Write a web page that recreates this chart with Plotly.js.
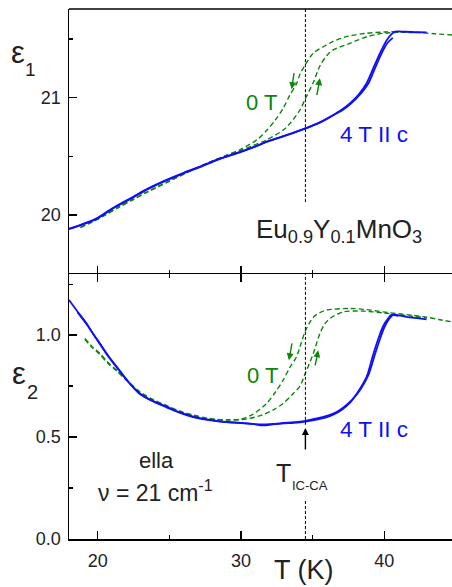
<!DOCTYPE html>
<html><head><meta charset="utf-8">
<script src="https://cdn.plot.ly/plotly-3.0.1.min.js"></script>
<style>html,body{margin:0;padding:0;width:452px;height:587px;overflow:hidden;background:#fff}#chart{width:470px;height:587px}</style>
</head><body><div id="chart"></div>
<script>
// ---- top panel: eps1 ----
const e1Blue4T_A_T = [18.0,19.0,19.93,21.0,22.49,23.5,24.81,26.0,27.14,28.5,29.98,31.0,31.79,33.0,34.49,35.5,36.44,37.0,37.6,38.2,38.77,39.23,39.7,40.17,40.5,40.75,41.5,42.3,42.96];
const e1Blue4T_A_V = [19.883,19.925,19.972,20.055,20.156,20.225,20.30,20.36,20.412,20.48,20.54,20.585,20.625,20.675,20.739,20.79,20.853,20.895,20.952,21.025,21.123,21.25,21.378,21.49,21.54,21.563,21.562,21.558,21.557];
const e1Blue4T_B_T = [18.0,19.0,19.93,21.0,22.49,23.5,24.81,26.0,27.14,28.5,29.98,31.0,31.79,33.0,34.49,35.5,36.44,37.1,37.7,38.3,38.9,39.35,39.82,40.25,40.6];
const e1Blue4T_B_V = [19.880,19.92,19.966,20.05,20.15,20.22,20.295,20.355,20.408,20.476,20.536,20.582,20.622,20.672,20.736,20.787,20.85,20.895,20.952,21.025,21.123,21.25,21.378,21.47,21.51];
const e1Green0T_cool_T = [18.8,19.5,20.5,21.5,22.5,23.5,25.0,26.5,28.0,29.0,29.98,31.1,31.79,32.4,32.95,33.4,33.88,34.12,34.49,35.05,35.98,36.44,37.5,38.77,40.0,41.1,42.5,43.5,44.73];
const e1Green0T_cool_V = [19.895,19.935,20.0,20.07,20.135,20.2,20.29,20.38,20.46,20.51,20.56,20.64,20.72,20.81,20.91,21.02,21.12,21.2,21.28,21.38,21.45,21.48,21.525,21.549,21.56,21.563,21.555,21.545,21.535];
const e1Green0T_heat_T = [18.8,19.5,20.5,21.5,22.5,23.5,25.0,26.5,28.0,29.0,29.98,30.8,31.79,32.95,33.42,34.12,34.49,35.05,35.51,36.0,36.44,37.6,38.8,39.93,41.1,42.0];
const e1Green0T_heat_V = [19.893,19.932,19.997,20.067,20.132,20.197,20.287,20.377,20.457,20.507,20.55,20.59,20.64,20.724,20.78,20.895,20.99,21.13,21.27,21.36,21.407,21.463,21.52,21.549,21.557,21.555];

// ---- bottom panel: eps2 ----
const e2Blue4T_A_T = [18.0,18.6,19.23,19.7,20.16,20.7,21.33,22.1,22.95,23.9,24.81,25.7,26.67,27.5,28.3,29.1,29.98,30.8,31.56,32.2,32.95,33.7,34.49,35.2,35.95,36.44,37.0,37.6,38.2,38.77,39.23,39.6,39.93,40.25,40.5,41.0,41.55,42.3,42.96];
const e2Blue4T_A_V = [1.172,1.115,1.057,1.005,0.959,0.90,0.845,0.775,0.714,0.675,0.649,0.622,0.60,0.588,0.58,0.574,0.570,0.565,0.557,0.562,0.567,0.570,0.576,0.585,0.597,0.61,0.632,0.668,0.725,0.795,0.905,0.985,1.045,1.08,1.10,1.097,1.09,1.083,1.077];
const e2Blue4T_B_T = [18.6,19.23,20.16,21.33,22.95,24.81,26.67,28.3,29.98,31.56,32.95,34.49,35.3,36.1,36.6,37.15,37.75,38.35,38.9,39.35,39.72,40.05,40.35,40.6,41.0];
const e2Blue4T_B_V = [1.112,1.054,0.956,0.842,0.711,0.646,0.598,0.578,0.568,0.562,0.569,0.58,0.592,0.607,0.62,0.645,0.682,0.735,0.805,0.905,0.985,1.045,1.08,1.098,1.095];
const e2Green0T_cool_T = [19.11,19.6,20.16,20.7,21.33,22.1,22.95,23.9,24.81,25.7,26.67,27.5,28.3,29.1,29.98,30.8,31.79,32.4,32.95,33.4,33.88,34.2,34.49,35.05,35.5,35.98,37.6,38.8,39.93,41.0,42.0,42.96,43.8,44.73];
const e2Green0T_cool_V = [0.984,0.945,0.91,0.868,0.828,0.775,0.722,0.683,0.655,0.628,0.608,0.595,0.587,0.585,0.588,0.61,0.665,0.72,0.78,0.84,0.894,0.96,1.02,1.088,1.11,1.123,1.131,1.125,1.114,1.105,1.097,1.088,1.077,1.065];
const e2Green0T_heat_T = [19.11,19.6,20.16,20.7,21.33,22.1,22.95,23.9,24.81,25.7,26.67,27.5,28.3,29.1,29.98,30.63,31.56,32.3,32.95,33.6,34.12,34.49,35.05,35.51,35.85,36.21,37.14,38.5,39.93,41.0,42.0,42.96];
const e2Green0T_heat_V = [0.98,0.94,0.905,0.863,0.824,0.772,0.72,0.681,0.653,0.626,0.606,0.593,0.585,0.583,0.585,0.592,0.61,0.635,0.665,0.71,0.75,0.812,0.91,1.008,1.055,1.082,1.114,1.118,1.109,1.10,1.092,1.085];

const T_IC_CA = 34.5;
const xTickVals = [20,30,40];
const xTickLabels = ['20','30','40'];
const y1TickVals = [20,21];
const y1TickLabels = ['20','21'];
const y2TickVals = [0,0.5,1.0];
const y2TickLabels = ['0.0','0.5','1.0'];

const BLUE = '#1010f5', GREEN = '#0b850b', INK = '#222';
const FONT = 'Liberation Sans, Arial, Helvetica, sans-serif';

function blue(x,y,xa,ya){return {x:x,y:y,xaxis:xa,yaxis:ya,mode:'lines',line:{color:BLUE,width:1.8,shape:'spline',smoothing:0.8},hoverinfo:'skip'};}
function green(x,y,xa,ya){return {x:x,y:y,xaxis:xa,yaxis:ya,mode:'lines',line:{color:GREEN,width:1.4,dash:'5px,3px',shape:'spline',smoothing:0.8},hoverinfo:'skip'};}

const data = [
  green(e1Green0T_cool_T,e1Green0T_cool_V,'x2','y2'),
  green(e1Green0T_heat_T,e1Green0T_heat_V,'x2','y2'),
  blue(e1Blue4T_A_T,e1Blue4T_A_V,'x2','y2'),
  blue(e1Blue4T_B_T,e1Blue4T_B_V,'x2','y2'),
  green(e2Green0T_cool_T,e2Green0T_cool_V,'x','y'),
  green(e2Green0T_heat_T,e2Green0T_heat_V,'x','y'),
  blue(e2Blue4T_A_T,e2Blue4T_A_V,'x','y'),
  blue(e2Blue4T_B_T,e2Blue4T_B_V,'x','y')
];

// pixel -> paper helpers for text placement
const L=69, W=386, B=538.7, H=529.7;
const px = v => (v-L)/W, py = v => (B-v)/H;
function txt(t,x,y,size,color,extra){return Object.assign({text:t,xref:'paper',yref:'paper',x:px(x),y:py(y),xanchor:'center',yanchor:'middle',showarrow:false,font:{family:FONT,size:size,color:color}},extra||{});}

const axX = {
  range:[18,44.94], showgrid:false, zeroline:false, linecolor:'#000', linewidth:1.5,
  ticks:'inside', ticklen:8, tickwidth:1.3, tickcolor:'#000',
  tickvals:xTickVals, ticktext:xTickLabels,
  minor:{ticks:'inside', ticklen:4, tickwidth:1.3, tickcolor:'#000', tickvals:[25,35]},
  tickfont:{family:FONT,size:18,color:INK}, ticklabelstandoff:5
};

const layout = {
  width:470, height:587, margin:{l:L,r:470-L-W,t:9,b:587-B},
  paper_bgcolor:'#fff', plot_bgcolor:'#fff', showlegend:false,
  xaxis:Object.assign({}, axX, {anchor:'y', domain:[0,1], showline:true, mirror:'ticks'}),
  xaxis2:Object.assign({}, axX, {anchor:'y2', domain:[0,1], matches:'x', showticklabels:false, showline:false}),
  yaxis:{domain:[0,0.5], range:[0,1.3], showgrid:false, zeroline:false, showline:true, linecolor:'#000', linewidth:1.5,
    ticks:'inside', ticklen:8, tickwidth:1.3, tickcolor:'#000', tickvals:y2TickVals, ticktext:y2TickLabels,
    minor:{ticks:'inside', ticklen:4, tickwidth:1.3, tickcolor:'#000', tickvals:[0.25,0.75,1.25]},
    tickfont:{family:FONT,size:18,color:INK}, ticklabelstandoff:3},
  yaxis2:{domain:[0.5,1], range:[19.497,21.756], showgrid:false, zeroline:false, showline:true, linecolor:'#000', linewidth:1.5,
    ticks:'inside', ticklen:8, tickwidth:1.3, tickcolor:'#000', tickvals:y1TickVals, ticktext:y1TickLabels,
    minor:{ticks:'inside', ticklen:4, tickwidth:1.3, tickcolor:'#000', tickvals:[19.5,20.5,21.5]},
    tickfont:{family:FONT,size:18,color:INK}, ticklabelstandoff:3},
  shapes:[
    {type:'line', xref:'paper', yref:'paper', x0:0, x1:1, y0:1, y1:1, line:{color:'#000',width:1.5}},
    {type:'line', xref:'x2', yref:'y2', x0:T_IC_CA, x1:T_IC_CA, y0:20.11, y1:21.756, line:{color:'#000',width:1,dash:'3px,2px'}},
    {type:'line', xref:'x', yref:'y', x0:T_IC_CA, x1:T_IC_CA, y0:0.56, y1:1.3, line:{color:'#000',width:1,dash:'3px,2px'}},
    {type:'line', xref:'x', yref:'y', x0:T_IC_CA, x1:T_IC_CA, y0:0, y1:0.19, line:{color:'#000',width:1,dash:'3px,2px'}}
  ],
  annotations:[
    txt('ε',17.5,52,31,INK), txt('1',30.5,69.5,19,INK),
    txt('ε',19.5,373,31,INK), txt('2',32.5,392,20,INK),
    txt('T (K)',304,570,27,INK),
    txt('0 T',261,102,22,GREEN),
    txt('4 T II c',373.5,134.5,22.5,BLUE),
    txt('Eu<sub>0.9</sub>Y<sub>0.1</sub>MnO<sub>3</sub>',339,230,26,INK),
    txt('0 T',262,375,22,GREEN),
    txt('4 T II c',373.5,429.5,22.5,BLUE),
    txt('ella',156,460,22,INK),
    txt('ν = 21 cm<sup>-1</sup>',155,491,23,INK),
    txt('T',283,472.5,25,INK),
    txt('IC-CA',309.5,485.5,13,INK),
    // arrows
    {xref:'x2',yref:'y2',x:33.54,y:21.072,ax:2.6,ay:-17.6,showarrow:true,arrowhead:2,arrowsize:1,arrowwidth:1.4,arrowcolor:GREEN,text:''},
    {xref:'x2',yref:'y2',x:35.51,y:21.165,ax:-3.3,ay:18.4,showarrow:true,arrowhead:2,arrowsize:1,arrowwidth:1.4,arrowcolor:GREEN,text:''},
    {xref:'x',yref:'y',x:33.35,y:0.877,ax:3.3,ay:-18.3,showarrow:true,arrowhead:2,arrowsize:1,arrowwidth:1.4,arrowcolor:GREEN,text:''},
    {xref:'x',yref:'y',x:35.39,y:0.926,ax:-3.3,ay:16.7,showarrow:true,arrowhead:2,arrowsize:1,arrowwidth:1.4,arrowcolor:GREEN,text:''},
    {xref:'x',yref:'y',x:T_IC_CA,y:0.545,ax:0,ay:23,showarrow:true,arrowhead:2,arrowsize:1,arrowwidth:1.4,arrowcolor:'#000',text:''}
  ]
};

Plotly.newPlot('chart', data, layout, {staticPlot:true, displayModeBar:false});
</script></body></html>
